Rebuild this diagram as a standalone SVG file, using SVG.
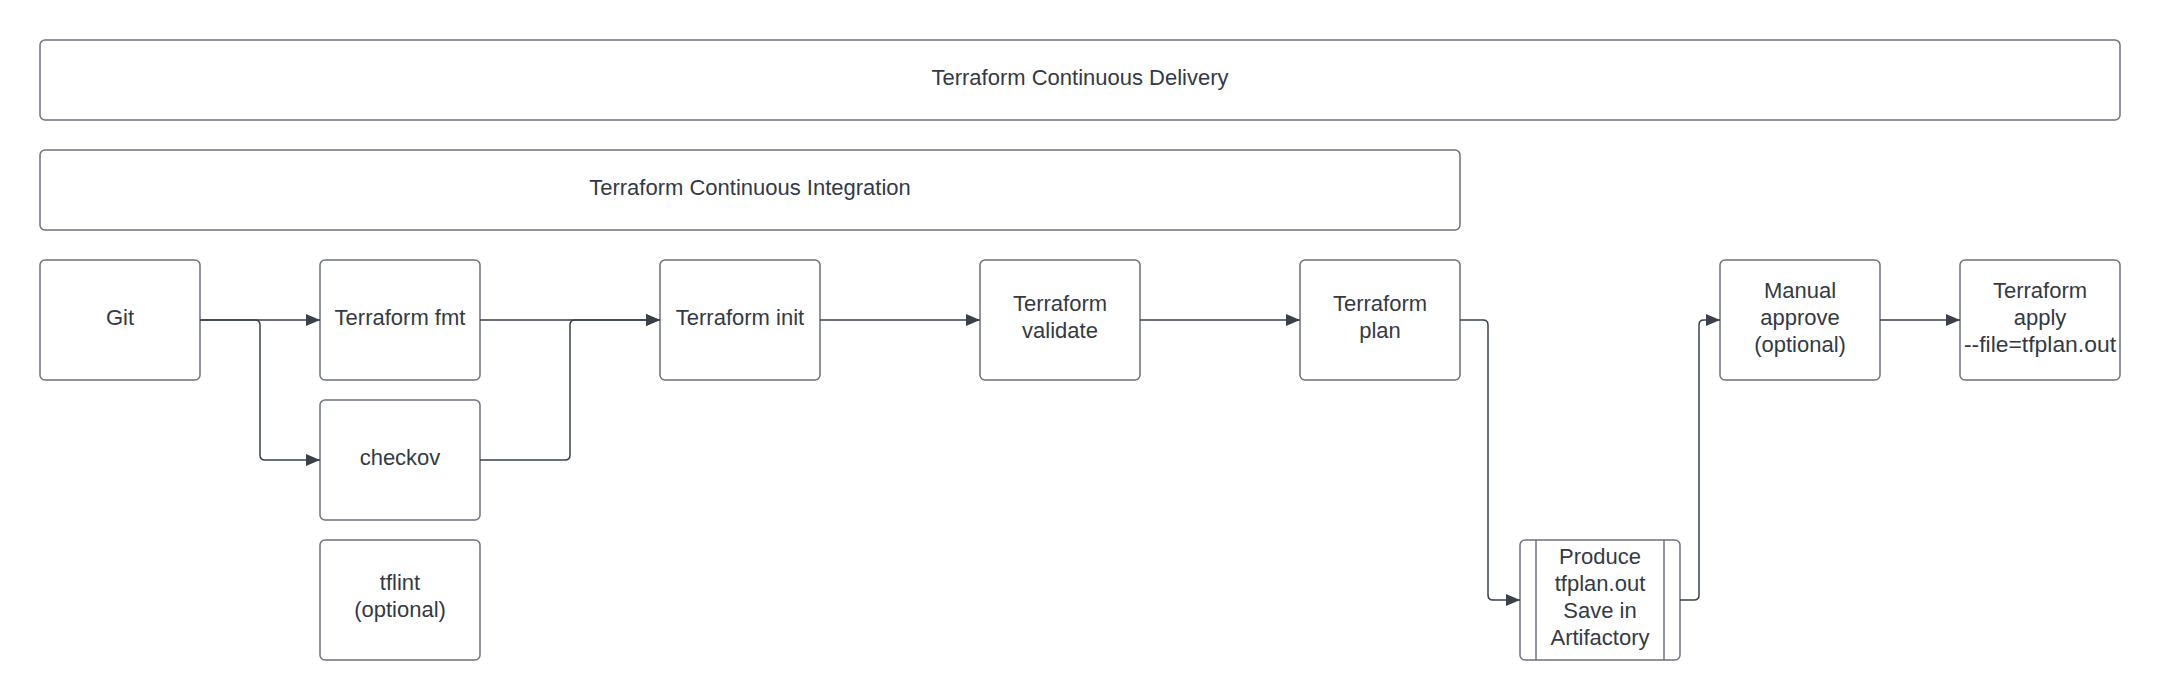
<svg xmlns="http://www.w3.org/2000/svg" width="2160" height="700" viewBox="0 0 2160 700">
<style>
.box{fill:#ffffff;stroke:#6c727c;stroke-width:1.5}
.t{font-family:"Liberation Sans",Arial,sans-serif;font-size:22px;fill:#333a45;text-anchor:middle}
.c{fill:none;stroke:#3a414b;stroke-width:1.5}
</style>
<defs>
<marker id="ah" viewBox="0 0 14 12" refX="14" refY="6" markerWidth="14" markerHeight="12" markerUnits="userSpaceOnUse" orient="auto">
<path d="M0,0 L14,6 L0,12 Z" fill="#3a414b"/>
</marker>
</defs>
<rect width="2160" height="700" fill="#ffffff"/>
<g id="cd"><rect class="box" x="40" y="40" width="2080" height="80" rx="5"/><text class="t" x="1080" y="85">Terraform Continuous Delivery</text></g>
<g id="ci"><rect class="box" x="40" y="150" width="1420" height="80" rx="5"/><text class="t" x="750" y="195">Terraform Continuous Integration</text></g>
<g id="git"><rect class="box" x="40" y="260" width="160" height="120" rx="5"/><text class="t" x="120" y="325">Git</text></g>
<g id="fmt"><rect class="box" x="320" y="260" width="160" height="120" rx="5"/><text class="t" x="400" y="325">Terraform fmt</text></g>
<g id="checkov"><rect class="box" x="320" y="400" width="160" height="120" rx="5"/><text class="t" x="400" y="465">checkov</text></g>
<g id="tflint"><rect class="box" x="320" y="540" width="160" height="120" rx="5"/><text class="t" x="400" y="590">tflint</text><text class="t" x="400" y="617">(optional)</text></g>
<g id="init"><rect class="box" x="660" y="260" width="160" height="120" rx="5"/><text class="t" x="740" y="325">Terraform init</text></g>
<g id="validate"><rect class="box" x="980" y="260" width="160" height="120" rx="5"/><text class="t" x="1060" y="311">Terraform</text><text class="t" x="1060" y="338">validate</text></g>
<g id="plan"><rect class="box" x="1300" y="260" width="160" height="120" rx="5"/><text class="t" x="1380" y="311">Terraform</text><text class="t" x="1380" y="338">plan</text></g>
<g id="produce"><rect class="box" x="1520" y="540" width="160" height="120" rx="5"/><line class="box" x1="1536" y1="540" x2="1536" y2="660"/><line class="box" x1="1664" y1="540" x2="1664" y2="660"/><text class="t" x="1600" y="564">Produce</text><text class="t" x="1600" y="591">tfplan.out</text><text class="t" x="1600" y="618">Save in</text><text class="t" x="1600" y="645">Artifactory</text></g>
<g id="manual"><rect class="box" x="1720" y="260" width="160" height="120" rx="5"/><text class="t" x="1800" y="298">Manual</text><text class="t" x="1800" y="325">approve</text><text class="t" x="1800" y="352">(optional)</text></g>
<g id="apply"><rect class="box" x="1960" y="260" width="160" height="120" rx="5"/><text class="t" x="2040" y="298">Terraform</text><text class="t" x="2040" y="325">apply</text><text class="t" x="2040" y="352" textLength="152" lengthAdjust="spacingAndGlyphs">--file=tfplan.out</text></g>
<g id="connectors">
<path class="c" d="M200,320 L320,320" marker-end="url(#ah)"/>
<path class="c" d="M200,320 L255,320 Q260,320 260,325 L260,455 Q260,460 265,460 L320,460" marker-end="url(#ah)"/>
<path class="c" d="M480,320 L660,320" marker-end="url(#ah)"/>
<path class="c" d="M480,460 L565,460 Q570,460 570,455 L570,325 Q570,320 575,320 L660,320" marker-end="url(#ah)"/>
<path class="c" d="M820,320 L980,320" marker-end="url(#ah)"/>
<path class="c" d="M1140,320 L1300,320" marker-end="url(#ah)"/>
<path class="c" d="M1460,320 L1483,320 Q1488,320 1488,325 L1488,595 Q1488,600 1493,600 L1520,600" marker-end="url(#ah)"/>
<path class="c" d="M1680,600 L1694,600 Q1699,600 1699,595 L1699,325 Q1699,320 1704,320 L1720,320" marker-end="url(#ah)"/>
<path class="c" d="M1880,320 L1960,320" marker-end="url(#ah)"/>
</g>
</svg>
